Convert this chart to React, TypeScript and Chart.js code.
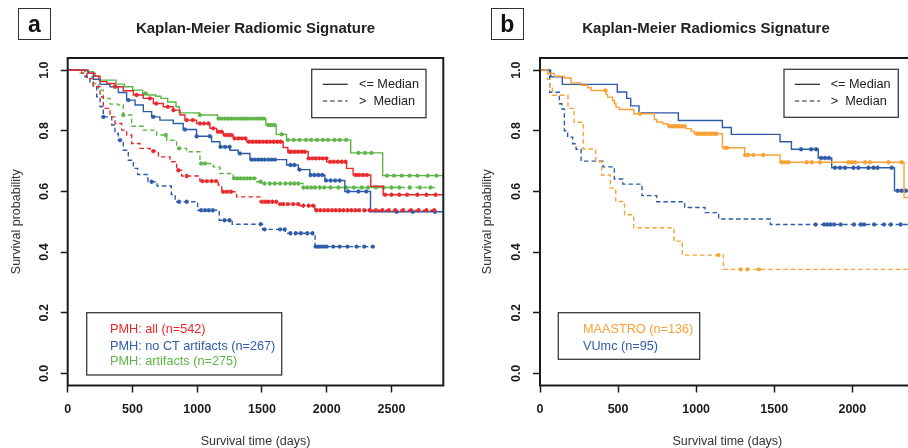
import React, { useEffect, useRef } from 'react';
import { Chart, registerables } from 'chart.js';

Chart.register(...registerables);

const FONT = '"Liberation Sans", Arial, Helvetica, sans-serif';

const RED = '#E8282C';
const BLUE = '#2D5BA8';
const GREEN = '#5DB546';
const ORANGE = '#F7A236';
const INK = '#1a1a1a';

// ---- text ----
const TITLE_A = 'Kaplan-Meier Radiomic Signature';
const TITLE_B = 'Kaplan-Meier Radiomics Signature';
const X_TITLE = 'Survival time (days)';
const Y_TITLE = 'Survival probability';
const MEDIAN_LABELS = ['<= Median', '>  Median'];
const A_GROUP_LABELS = ['PMH: all (n=542)', 'PMH: no CT artifacts (n=267)', 'PMH: artifacts (n=275)'];
const B_GROUP_LABELS = ['MAASTRO (n=136)', 'VUmc (n=95)'];

// ---- axes ----
const Y_TICKS = [0, 0.2, 0.4, 0.6, 0.8, 1.0];
const Y_RANGE = [-0.04, 1.04];
const A_X_TICKS = [0, 500, 1000, 1500, 2000, 2500];
const A_X_RANGE = [0, 2900];
const B_X_TICKS = [0, 500, 1000, 1500, 2000];
const B_X_RANGE = [0, 2400];

// ---- panel a: PMH ----
// all, <= median
const pmhAllLowT = [0, 157, 211, 250, 301, 365, 429, 507, 584, 661, 738, 815, 867, 905, 995, 1098, 1150, 1201, 1278, 1381, 1664, 1700, 1857, 1999, 2153, 2204, 2340, 2436, 2900];
const pmhAllLowS = [1, 0.99, 0.98, 0.962, 0.956, 0.945, 0.932, 0.918, 0.907, 0.890, 0.879, 0.868, 0.852, 0.835, 0.824, 0.808, 0.797, 0.786, 0.775, 0.764, 0.745, 0.731, 0.709, 0.698, 0.676, 0.654, 0.617, 0.589, 0.589];
const pmhAllLowC = [366, 532, 635, 683, 773, 816, 919, 965, 1021, 1052, 1086, 1124, 1160, 1185, 1215, 1240, 1262, 1290, 1318, 1345, 1372, 1400, 1428, 1455, 1480, 1508, 1536, 1562, 1590, 1618, 1645, 1710, 1725, 1752, 1778, 1805, 1830, 1860, 1888, 1915, 1942, 1970, 1998, 2026, 2055, 2085, 2115, 2145, 2225, 2250, 2280, 2310, 2450, 2500, 2560, 2620, 2700, 2770, 2840];
// all, > median
const pmhAllHighT = [0, 108, 147, 198, 250, 275, 327, 365, 417, 455, 494, 558, 635, 700, 790, 841, 880, 1021, 1163, 1189, 1304, 1484, 1613, 1793, 1908, 2850];
const pmhAllHighS = [1, 0.99, 0.972, 0.945, 0.912, 0.874, 0.846, 0.824, 0.802, 0.786, 0.758, 0.742, 0.733, 0.714, 0.698, 0.670, 0.651, 0.634, 0.621, 0.599, 0.582, 0.566, 0.558, 0.553, 0.538, 0.538];
const pmhAllHighC = [661, 854, 919, 1040, 1075, 1110, 1145, 1200, 1230, 1260, 1500, 1525, 1550, 1580, 1610, 1640, 1665, 1700, 1740, 1780, 1820, 1860, 1895, 1920, 1950, 1980, 2010, 2040, 2070, 2100, 2130, 2160, 2190, 2220, 2250, 2290, 2330, 2380, 2430, 2480, 2530, 2590, 2650, 2710, 2770, 2830];
// no CT artifacts, <= median
const pmhNoArtLowT = [0, 157, 198, 250, 327, 391, 455, 520, 584, 648, 712, 815, 892, 995, 1111, 1175, 1252, 1317, 1407, 1690, 1780, 1870, 1986, 2140, 2338, 2900];
const pmhNoArtLowS = [1, 0.99, 0.970, 0.953, 0.945, 0.926, 0.901, 0.885, 0.863, 0.846, 0.835, 0.824, 0.804, 0.782, 0.764, 0.747, 0.736, 0.725, 0.705, 0.687, 0.672, 0.654, 0.636, 0.600, 0.533, 0.533];
const pmhNoArtLowC = [468, 661, 905, 995, 1098, 1180, 1215, 1250, 1330, 1420, 1445, 1470, 1495, 1520, 1548, 1575, 1600, 1720, 1750, 1790, 1875, 1905, 1935, 1965, 1995, 2030, 2065, 2100, 2165, 2245, 2305, 2540, 2665, 2835];
// no CT artifacts, > median
const pmhNoArtHighT = [0, 134, 172, 198, 224, 250, 275, 340, 365, 391, 429, 468, 507, 540, 620, 690, 800, 830, 1003, 1170, 1270, 1505, 1680, 1910, 2371];
const pmhNoArtHighS = [1, 0.978, 0.96, 0.945, 0.912, 0.879, 0.846, 0.819, 0.791, 0.769, 0.736, 0.703, 0.676, 0.656, 0.632, 0.618, 0.590, 0.566, 0.538, 0.505, 0.492, 0.475, 0.462, 0.418, 0.418];
const pmhNoArtHighC = [275, 404, 648, 860, 919, 1030, 1060, 1090, 1120, 1210, 1250, 1490, 1520, 1640, 1675, 1720, 1760, 1800, 1850, 1890, 1915, 1935, 1955, 1975, 2000, 2050, 2100, 2160, 2230, 2290, 2355];
// artifacts, <= median
const pmhArtLowT = [0, 150, 200, 240, 373, 437, 502, 579, 617, 681, 720, 772, 836, 862, 1016, 1157, 1530, 1610, 1690, 2185, 2432, 2900];
const pmhArtLowS = [1, 0.995, 0.98, 0.967, 0.954, 0.945, 0.934, 0.923, 0.918, 0.914, 0.907, 0.895, 0.879, 0.859, 0.852, 0.840, 0.819, 0.788, 0.770, 0.727, 0.652, 0.652];
const pmhArtLowC = [600, 1021, 1165, 1190, 1215, 1240, 1265, 1290, 1315, 1340, 1365, 1390, 1415, 1440, 1465, 1490, 1515, 1550, 1570, 1595, 1652, 1700, 1745, 1790, 1840, 1880, 1925, 1970, 2010, 2060, 2100, 2150, 2245, 2295, 2345, 2465, 2520, 2580, 2640, 2700, 2780, 2848];
// artifacts, > median
const pmhArtHighT = [0, 95, 147, 198, 237, 275, 327, 391, 429, 494, 584, 687, 764, 841, 918, 1021, 1124, 1175, 1278, 1458, 1497, 1818, 2850];
const pmhArtHighS = [1, 0.99, 0.978, 0.956, 0.934, 0.907, 0.888, 0.885, 0.852, 0.815, 0.802, 0.786, 0.769, 0.742, 0.731, 0.692, 0.681, 0.659, 0.643, 0.632, 0.626, 0.613, 0.613];
const pmhArtHighC = [429, 758, 860, 1030, 1060, 1285, 1310, 1335, 1360, 1385, 1410, 1440, 1490, 1520, 1560, 1600, 1640, 1680, 1720, 1750, 1780, 1820, 1850, 1880, 1910, 1945, 1980, 2030, 2090, 2150, 2210, 2270, 2320, 2380, 2440, 2500, 2560, 2640, 2720, 2800];

// ---- panel b: validation ----
// MAASTRO, <= median
const maastroLowT = [0, 49, 90, 156, 199, 263, 305, 327, 423, 433, 465, 476, 487, 508, 600, 732, 747, 786, 818, 935, 967, 988, 1168, 1311, 1537, 2331, 2400];
const maastroLowS = [1, 0.989, 0.980, 0.974, 0.958, 0.950, 0.942, 0.933, 0.920, 0.911, 0.900, 0.889, 0.878, 0.870, 0.856, 0.837, 0.829, 0.823, 0.815, 0.807, 0.799, 0.790, 0.744, 0.720, 0.696, 0.580, 0.580];
const maastroLowC = [420, 640, 830, 845, 860, 872, 885, 898, 910, 925, 1005, 1020, 1035, 1050, 1060, 1075, 1090, 1100, 1115, 1130, 1185, 1197, 1313, 1334, 1366, 1430, 1548, 1569, 1590, 1708, 1740, 1793, 1974, 1996, 2017, 2081, 2113, 2231, 2316];
// MAASTRO, > median
const maastroHighT = [0, 48, 62, 79, 179, 218, 277, 357, 395, 450, 485, 541, 600, 858, 911, 1174, 2400];
const maastroHighS = [1, 0.97, 0.94, 0.917, 0.874, 0.828, 0.740, 0.698, 0.654, 0.611, 0.567, 0.523, 0.480, 0.436, 0.390, 0.343, 0.343];
const maastroHighC = [1142, 1285, 1328, 1402];
// VUmc, <= median
const vumcLowT = [0, 68, 143, 495, 555, 581, 634, 886, 1168, 1225, 1537, 1610, 1782, 1868, 2270, 2400];
const vumcLowS = [1, 0.978, 0.953, 0.928, 0.907, 0.882, 0.859, 0.834, 0.811, 0.788, 0.764, 0.739, 0.710, 0.678, 0.602, 0.602];
const vumcLowC = [1672, 1736, 1768, 1800, 1825, 1850, 1889, 1921, 1953, 2007, 2039, 2103, 2135, 2161, 2252, 2291, 2316, 2342];
// VUmc, > median
const vumcHighT = [0, 62, 124, 140, 156, 177, 209, 231, 263, 403, 476, 530, 653, 747, 926, 1057, 1144, 1475, 2400];
const vumcHighS = [1, 0.927, 0.889, 0.872, 0.800, 0.779, 0.757, 0.739, 0.700, 0.681, 0.641, 0.624, 0.586, 0.566, 0.547, 0.530, 0.509, 0.491, 0.491];
const vumcHighC = [1765, 1819, 1840, 1860, 1883, 1926, 2011, 2054, 2075, 2139, 2203, 2246, 2310];

// ---- helpers ----
const DASH = [4.5, 3];

function stepPoints(t: number[], s: number[]) {
  return t.map((x, i) => ({ x, y: s[i] }));
}
function censorPoints(t: number[], s: number[], c: number[]) {
  return c.map((x) => {
    let i = 0;
    while (i + 1 < t.length && t[i + 1] <= x) i++;
    return { x, y: s[i] };
  });
}
function curve(label: string, t: number[], s: number[], color: string, dashed: boolean) {
  return {
    label,
    data: stepPoints(t, s),
    showLine: true,
    stepped: 'before',
    borderColor: color,
    backgroundColor: color,
    borderWidth: 1.4,
    borderDash: dashed ? DASH : [],
    pointRadius: 0,
    pointHoverRadius: 0,
  };
}
function marks(label: string, t: number[], s: number[], c: number[], color: string) {
  return {
    label,
    data: censorPoints(t, s, c),
    showLine: false,
    pointStyle: 'star',
    pointRadius: 2.2,
    borderColor: color,
    backgroundColor: color,
    borderWidth: 1.1,
  };
}

type LegendRow = { text: string; color: string; dash?: number[] };
type LegendSpec = { box: number[]; rowY: number[]; lineX?: number[]; textX: number; rows: LegendRow[] };

function drawLegend(ctx: CanvasRenderingContext2D, spec: LegendSpec) {
  const [x, y, w, h] = spec.box;
  ctx.save();
  ctx.fillStyle = '#fff';
  ctx.fillRect(x, y, w, h);
  ctx.strokeStyle = '#3a3a3a';
  ctx.lineWidth = 1.3;
  ctx.strokeRect(x, y, w, h);
  ctx.font = `12.7px ${FONT}`;
  ctx.textBaseline = 'middle';
  ctx.textAlign = 'left';
  spec.rows.forEach((r, i) => {
    const yy = spec.rowY[i];
    if (r.dash && spec.lineX) {
      ctx.beginPath();
      ctx.setLineDash(r.dash);
      ctx.strokeStyle = '#222';
      ctx.lineWidth = 1.2;
      ctx.moveTo(spec.lineX[0], yy);
      ctx.lineTo(spec.lineX[1], yy);
      ctx.stroke();
      ctx.setLineDash([]);
    }
    ctx.fillStyle = r.color;
    ctx.fillText(r.text, spec.textX, yy);
  });
  ctx.restore();
}

const framePlugin = {
  id: 'rframe',
  afterDatasetsDraw(chart: any) {
    const { ctx, chartArea } = chart;
    const { left, top, right, bottom } = chartArea;
    ctx.save();
    ctx.strokeStyle = INK;
    ctx.lineWidth = 2;
    ctx.strokeRect(left, top, right - left, bottom - top);
    ctx.restore();
  },
};

function legendPlugin(specs: LegendSpec[]) {
  return {
    id: 'rlegend',
    afterDraw(chart: any) {
      specs.forEach((s) => drawLegend(chart.ctx, s));
    },
  };
}

type Layout = { top: number; right: number; yWidth: number; xHeight: number; yTitlePad: number };

function buildChart(canvas: HTMLCanvasElement, datasets: any[], xRange: number[], xTicks: number[], layout: Layout, legends: LegendSpec[]) {
  const tickFont = { family: FONT, size: 12.5, weight: 'bold' as const };
  const titleFont = { family: FONT, size: 12.5, lineHeight: 1 };
  const grid = { drawOnChartArea: false, drawTicks: true, tickLength: 7, tickWidth: 1.5, tickColor: INK };
  return new Chart(canvas, {
    type: 'scatter',
    data: { datasets },
    options: {
      responsive: false,
      animation: false,
      events: [],
      layout: { padding: { left: 0, top: layout.top, right: layout.right, bottom: 0 } },
      plugins: { legend: { display: false }, tooltip: { enabled: false }, title: { display: false } },
      scales: {
        x: {
          type: 'linear',
          position: 'bottom',
          min: xRange[0],
          max: xRange[1],
          afterBuildTicks: (s: any) => {
            s.ticks = xTicks.map((v) => ({ value: v }));
          },
          afterFit: (s: any) => {
            s.height = layout.xHeight;
          },
          grid,
          border: { display: false },
          ticks: { font: tickFont, color: INK, padding: 10, maxRotation: 0, autoSkip: false, callback: (v: any) => String(v) },
          title: { display: true, text: X_TITLE, font: titleFont, color: '#333', padding: { top: 0, bottom: 0 } },
        },
        y: {
          type: 'linear',
          position: 'left',
          min: Y_RANGE[0],
          max: Y_RANGE[1],
          afterBuildTicks: (s: any) => {
            s.ticks = Y_TICKS.map((v) => ({ value: v }));
          },
          afterFit: (s: any) => {
            s.width = layout.yWidth;
          },
          grid,
          border: { display: false },
          ticks: {
            font: tickFont,
            color: INK,
            padding: 7.7,
            minRotation: 90,
            maxRotation: 90,
            crossAlign: 'center',
            autoSkip: false,
            callback: (v: any) => Number(v).toFixed(1),
          },
          title: { display: true, text: Y_TITLE, font: titleFont, color: '#333', padding: { top: layout.yTitlePad, bottom: 0 } },
        },
      },
    } as any,
    plugins: [framePlugin, legendPlugin(legends)],
  });
}

const A_LEGENDS: LegendSpec[] = [
  {
    box: [311.7, 69.3, 114.3, 48.4],
    rowY: [84.3, 101],
    lineX: [322.7, 347.7],
    textX: 359,
    rows: [
      { text: MEDIAN_LABELS[0], color: '#222', dash: [] },
      { text: MEDIAN_LABELS[1], color: '#222', dash: DASH },
    ],
  },
  {
    box: [86.7, 312.7, 195, 62.3],
    rowY: [329.3, 346, 361.7],
    textX: 110,
    rows: [
      { text: A_GROUP_LABELS[0], color: RED },
      { text: A_GROUP_LABELS[1], color: BLUE },
      { text: A_GROUP_LABELS[2], color: GREEN },
    ],
  },
];

const B_LEGENDS: LegendSpec[] = [
  {
    box: [330, 69.3, 114.3, 48],
    rowY: [84.3, 101],
    lineX: [340.7, 366],
    textX: 376.7,
    rows: [
      { text: MEDIAN_LABELS[0], color: '#222', dash: [] },
      { text: MEDIAN_LABELS[1], color: '#222', dash: DASH },
    ],
  },
  {
    box: [104.3, 312.7, 141.4, 46.6],
    rowY: [329.3, 346.7],
    textX: 129,
    rows: [
      { text: B_GROUP_LABELS[0], color: ORANGE },
      { text: B_GROUP_LABELS[1], color: BLUE },
    ],
  },
];

export default function App() {
  const refA = useRef<HTMLCanvasElement>(null);
  const refB = useRef<HTMLCanvasElement>(null);

  useEffect(() => {
    const dsA = [
      curve('all low', pmhAllLowT, pmhAllLowS, RED, false),
      curve('all high', pmhAllHighT, pmhAllHighS, RED, true),
      marks('all low c', pmhAllLowT, pmhAllLowS, pmhAllLowC, RED),
      marks('all high c', pmhAllHighT, pmhAllHighS, pmhAllHighC, RED),
      curve('noart low', pmhNoArtLowT, pmhNoArtLowS, BLUE, false),
      curve('noart high', pmhNoArtHighT, pmhNoArtHighS, BLUE, true),
      marks('noart low c', pmhNoArtLowT, pmhNoArtLowS, pmhNoArtLowC, BLUE),
      marks('noart high c', pmhNoArtHighT, pmhNoArtHighS, pmhNoArtHighC, BLUE),
      curve('art low', pmhArtLowT, pmhArtLowS, GREEN, false),
      curve('art high', pmhArtHighT, pmhArtHighS, GREEN, true),
      marks('art low c', pmhArtLowT, pmhArtLowS, pmhArtLowC, GREEN),
      marks('art high c', pmhArtHighT, pmhArtHighS, pmhArtHighC, GREEN),
    ];
    const dsB = [
      curve('maastro low', maastroLowT, maastroLowS, ORANGE, false),
      curve('maastro high', maastroHighT, maastroHighS, ORANGE, true),
      marks('maastro low c', maastroLowT, maastroLowS, maastroLowC, ORANGE),
      marks('maastro high c', maastroHighT, maastroHighS, maastroHighC, ORANGE),
      curve('vumc low', vumcLowT, vumcLowS, BLUE, false),
      curve('vumc high', vumcHighT, vumcHighS, BLUE, true),
      marks('vumc low c', vumcLowT, vumcLowS, vumcLowC, BLUE),
      marks('vumc high c', vumcHighT, vumcHighS, vumcHighC, BLUE),
    ];
    const a = buildChart(refA.current!, dsA, A_X_RANGE, A_X_TICKS, { top: 58, right: 10.7, yWidth: 67.7, xHeight: 62.5, yTitlePad: 10.75 }, A_LEGENDS);
    const b = buildChart(refB.current!, dsB, B_X_RANGE, B_X_TICKS, { top: 58, right: 9.2, yWidth: 86, xHeight: 62.5, yTitlePad: 26.8 }, B_LEGENDS);
    return () => {
      a.destroy();
      b.destroy();
    };
  }, []);

  const letterBox = (left: number): React.CSSProperties => ({
    position: 'absolute',
    left,
    top: 8,
    width: 33,
    height: 32,
    border: '1px solid #333',
    boxSizing: 'border-box',
    display: 'flex',
    alignItems: 'center',
    justifyContent: 'center',
    font: `bold 23px ${FONT}`,
    color: '#111',
    lineHeight: '30px',
  });
  const titleStyle = (center: number): React.CSSProperties => ({
    position: 'absolute',
    left: center - 200,
    width: 400,
    top: 19,
    lineHeight: '18px',
    textAlign: 'center',
    font: `bold 15px ${FONT}`,
    color: '#222',
    whiteSpace: 'nowrap',
  });

  return (
    <div style={{ position: 'fixed', left: 0, top: 0, width: 908, height: 448, overflow: 'hidden', background: '#fff' }}>
      <canvas ref={refA} width={454} height={448} style={{ position: 'absolute', left: 0, top: 0 }} />
      <canvas ref={refB} width={470} height={448} style={{ position: 'absolute', left: 454, top: 0 }} />
      <div style={letterBox(18)}>a</div>
      <div style={titleStyle(255.5)}>{TITLE_A}</div>
      <div style={letterBox(490.7)}>b</div>
      <div style={titleStyle(706)}>{TITLE_B}</div>
    </div>
  );
}
